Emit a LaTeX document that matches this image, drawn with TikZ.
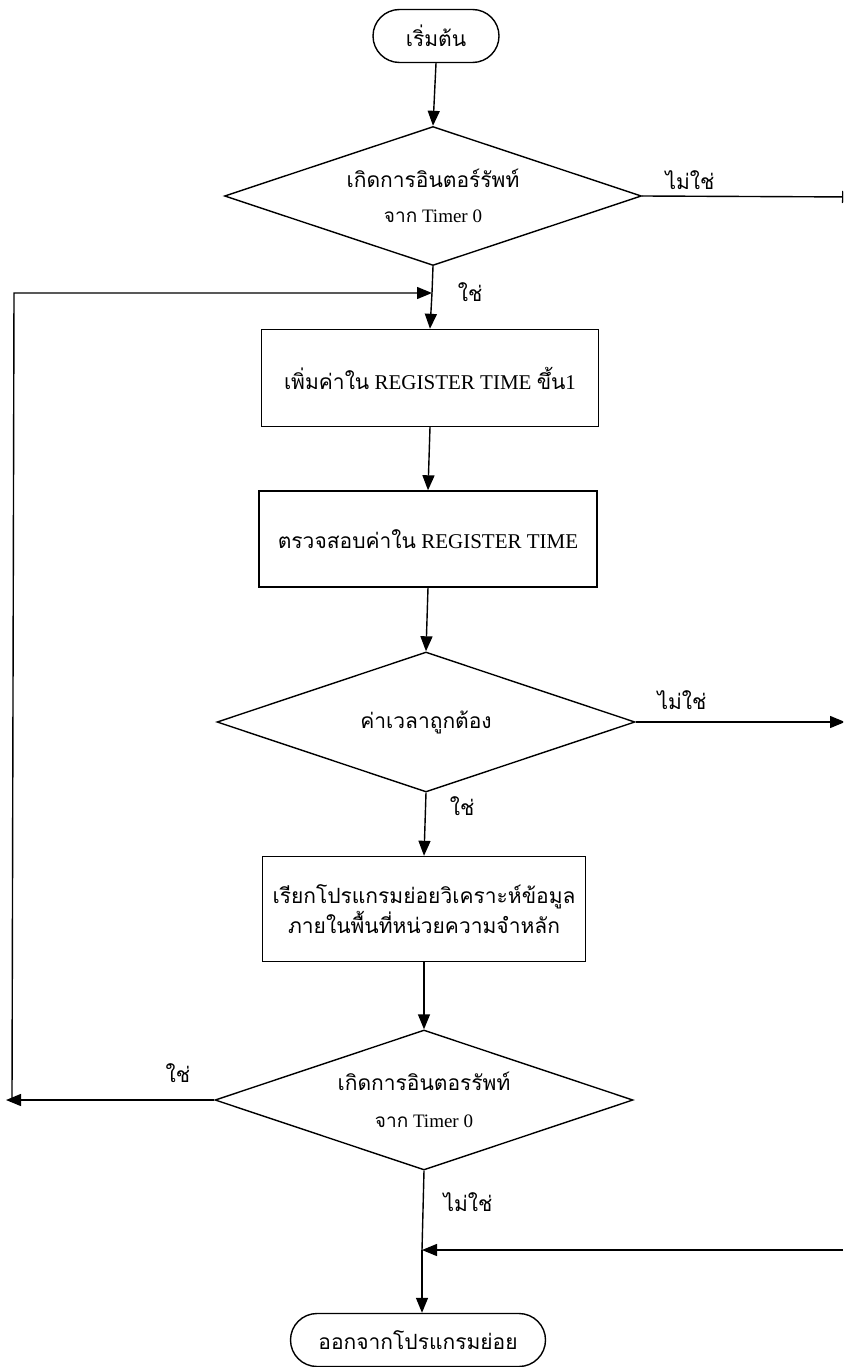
\documentclass[tikz,border=0pt]{standalone}
\usepackage{fontspec}
\setmainfont{Liberation Serif}
\newfontfamily\thaifont[Script=Thai]{Loma}
\newcommand{\tha}[1]{{\thaifont #1}}
\usetikzlibrary{shapes.geometric,shapes.misc,arrows.meta}

\begin{document}
\begin{tikzpicture}[x=1pt, y=-1pt, line width=1.4pt,
    font=\fontsize{21}{28}\selectfont,
    arrow/.style={-{Triangle[length=15pt,width=12pt]}},
    terminal/.style={rounded rectangle, draw, inner sep=0pt},
    process/.style={rectangle, draw, inner sep=0pt, align=center},
    decision/.style={diamond, aspect=2.5, draw, inner sep=0pt, align=center},
    lbl/.style={inner sep=0pt}]
  \useasboundingbox (0,0) rectangle (843,1367);
  \clip (0,0) rectangle (843,1367);
  % Start and first interrupt test
  \node[terminal, minimum width=126pt, minimum height=53pt] (start) at (436,36) {\tha{เริ่มต้น}};
  \node[decision, minimum width=417pt, minimum height=139pt] (chk1) at (433,196)
    {\tha{เกิดการอินตอร์รัพท์}\\[7pt]{\fontsize{19}{24}\selectfont\tha{จาก} Timer 0}};
  \coordinate (j1) at (432,293);
  % Process boxes
  \node[process, minimum width=337pt, minimum height=97pt] (inc) at (430,378)
    {\tha{เพิ่มค่าใน} REGISTER TIME \tha{ขึ้น}1};
  \node[process, minimum width=338pt, minimum height=96pt] (read) at (428,539)
    {\tha{ตรวจสอบค่าใน} REGISTER TIME};
  \node[decision, minimum width=418pt, minimum height=140pt] (chk2) at (426,722)
    {\tha{ค่าเวลาถูกต้อง}};
  \node[process, minimum width=323pt, minimum height=105pt] (call) at (424,909)
    {\tha{เรียกโปรแกรมย่อยวิเคราะห์ข้อมูล}\\[2pt]\tha{ภายในพื้นที่หน่วยความจำหลัก}};
  % Second interrupt test and exit
  \node[decision, minimum width=418pt, minimum height=140pt] (chk3) at (424,1100)
    {\tha{เกิดการอินตอรรัพท์}\\[9pt]{\fontsize{19}{24}\selectfont\tha{จาก} Timer 0}};
  \coordinate (j2) at (422,1250);
  \node[terminal, minimum width=255pt, minimum height=53pt] (done) at (418,1340) {\tha{ออกจากโปรแกรมย่อย}};
  % Branch labels
  \node[lbl] (no1) at (690,180) {\tha{ไม่ใช่}};
  \node[lbl] (yes1) at (470,292) {\tha{ใช่}};
  \node[lbl] (no2) at (682,700) {\tha{ไม่ใช่}};
  \node[lbl] (yes2) at (462,806) {\tha{ใช่}};
  \node[lbl] (yes3) at (178,1073) {\tha{ใช่}};
  \node[lbl] (no3) at (468,1202) {\tha{ไม่ใช่}};
  % Main flow
  \draw[arrow] (start.south) -- (chk1.north);
  \draw (chk1.south) -- (j1);
  \draw[arrow] (j1) -- (inc.north);
  \draw[arrow] (inc.south) -- (read.north);
  \draw[arrow] (read.south) -- (chk2.north);
  \draw[arrow] (chk2.south) -- (call.north);
  \draw[arrow] (call.south) -- (chk3.north);
  \draw (chk3.south) -- (j2);
  \draw[arrow] (j2) -- (j2 |- done.north);
  % Loop back on the left
  \coordinate (lb) at (6,1100);
  \coordinate (lc) at (12,1100);
  \coordinate (lt) at (14,293);
  \draw[arrow] (chk3.west) -- (lb);
  \draw[arrow] (lc) -- (lt) -- (j1);
  % Exits on the right
  \coordinate (rt1) at (857,197);
  \coordinate (rt2) at (845,722);
  \coordinate (rb) at (843,1250);
  \draw[arrow] (chk1.east) -- (rt1);
  \draw[arrow] (chk2.east) -- (rt2);
  \draw[arrow] (rb) -- (j2);
\end{tikzpicture}
\end{document}
